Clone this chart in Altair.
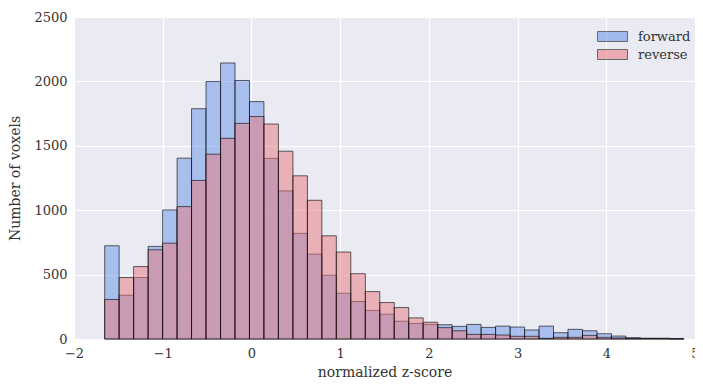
import altair as alt
import pandas as pd

# bin left/right edges (normalized z-score)
bin_edges = [-1.654, -1.491, -1.328, -1.164, -1.001, -0.838, -0.675, -0.512,
             -0.348, -0.185, -0.022, 0.141, 0.304, 0.468, 0.631, 0.794,
             0.957, 1.120, 1.284, 1.447, 1.610, 1.773, 1.936, 2.100,
             2.263, 2.426, 2.589, 2.752, 2.916, 3.079, 3.242, 3.405,
             3.568, 3.732, 3.895, 4.058, 4.221, 4.384, 4.548, 4.711, 4.874]

forward = [724, 340, 477, 719, 1002, 1404, 1788, 1999, 2143, 2007,
           1843, 1402, 1150, 820, 659, 495, 355, 291, 222, 193,
           138, 121, 113, 111, 98, 113, 90, 100, 93, 70,
           100, 49, 75, 64, 41, 23, 10, 5, 5, 2]

reverse = [307, 477, 562, 693, 744, 1028, 1231, 1435, 1558, 1674,
           1727, 1669, 1458, 1267, 1077, 801, 675, 507, 368, 283,
           244, 164, 130, 88, 64, 36, 36, 31, 21, 21,
           5, 13, 13, 28, 13, 8, 5, 5, 5, 2]

series_names = ["forward", "reverse"]
series_colors = ["#6692e8", "#ea767c"]
x_ticks = [-2, -1, 0, 1, 2, 3, 4, 5]
y_ticks = [0, 500, 1000, 1500, 2000, 2500]

rows = []
for name, vals in zip(series_names, [forward, reverse]):
    for i, v in enumerate(vals):
        rows.append({"series": name, "x0": bin_edges[i], "x1": bin_edges[i + 1], "count": v})
df = pd.DataFrame(rows)

FONT = "DejaVu Serif"

chart = alt.Chart(df).mark_bar(
    fillOpacity=0.5, stroke="#000000", strokeOpacity=0.6, strokeWidth=1
).encode(
    x=alt.X("x0:Q", scale=alt.Scale(domain=[-2, 5], nice=False, zero=False),
            axis=alt.Axis(title="normalized z-score", values=x_ticks, format="d",
                          labelFlush=False)),
    x2="x1:Q",
    y=alt.Y("count:Q", scale=alt.Scale(domain=[0, 2500], nice=False),
            axis=alt.Axis(title="Number of voxels", values=y_ticks, format="d")),
    y2=alt.datum(0),
    color=alt.Color("series:N", scale=alt.Scale(domain=series_names, range=series_colors),
                    legend=alt.Legend(title=None, orient="none", legendX=528, legendY=9,
                                      padding=0, symbolType="M-1.5,-0.5H1.5V0.5H-1.5Z",
                                      symbolSize=400, rowPadding=0,
                                      symbolOpacity=0.55, symbolStrokeColor="#000000",
                                      symbolStrokeWidth=1, labelFont=FONT, labelFontSize=13,
                                      labelColor="#333333", labelOffset=15)),
    order=alt.Order("series:N")
).properties(
    width=621, height=322,
    autosize=alt.AutoSizeParams(type="none"),
    padding={"left": 66, "top": 9, "right": 0, "bottom": 40},
).configure_view(
    fill="#eaeaf2", stroke=None
).configure_axis(
    grid=True, gridColor="#ffffff", gridWidth=1.2, domain=False, ticks=False,
    labelFont=FONT, labelFontSize=13, labelColor="#333333", labelPadding=7,
    titleFont=FONT, titleFontSize=14, titleFontWeight="normal", titleColor="#333333",
).configure_axisY(
    titlePadding=11
).configure_axisX(
    labelPadding=8, titlePadding=5
)

chart.save("out.html", embed_options={"renderer": "svg", "actions": False})
